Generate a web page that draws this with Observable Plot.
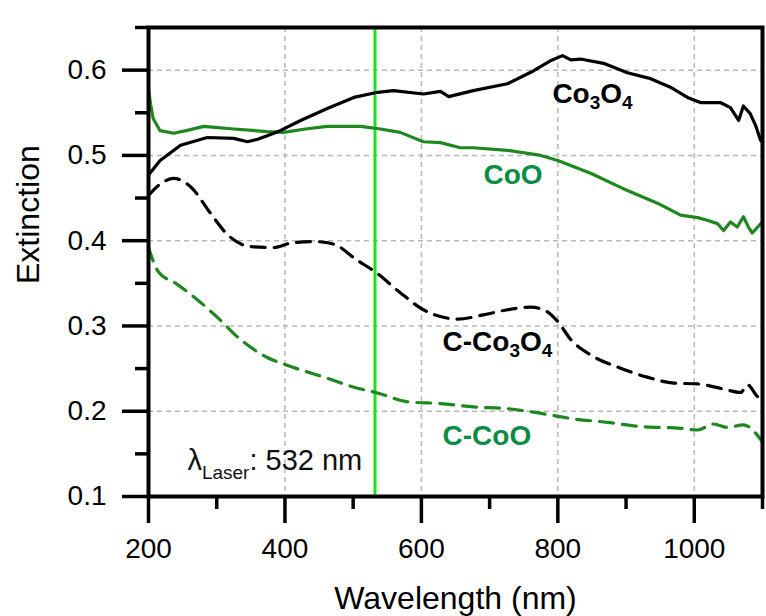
<!DOCTYPE html>
<html>
<head>
<meta charset="utf-8">
<script src="https://cdn.jsdelivr.net/npm/d3@7"></script>
<script src="https://cdn.jsdelivr.net/npm/@observablehq/plot@0.6"></script>
<style>
  html, body { margin: 0; padding: 0; background: #fff; }
  #chart { width: 766px; height: 616px; }
</style>
</head>
<body>
<div id="chart"></div>
<script>
// ---- Data ----
const wlCo3O4  = [200, 217, 247, 286, 325, 345, 360, 374, 393, 423, 462, 501, 536, 559, 603, 628, 640, 676, 726, 764, 789, 807, 819, 833, 867, 902, 936, 965, 990, 1009, 1038, 1053, 1065, 1072, 1082, 1090, 1097, 1100];
const extCo3O4 = [0.477, 0.494, 0.512, 0.521, 0.520, 0.516, 0.519, 0.523, 0.529, 0.541, 0.555, 0.568, 0.574, 0.576, 0.572, 0.575, 0.569, 0.576, 0.584, 0.599, 0.611, 0.617, 0.612, 0.613, 0.608, 0.597, 0.590, 0.580, 0.568, 0.562, 0.562, 0.556, 0.541, 0.558, 0.549, 0.535, 0.518, 0.515];

const wlCoO  = [200, 203, 207, 217, 237, 260, 281, 325, 374, 398, 430, 462, 511, 540, 569, 603, 628, 657, 676, 726, 775, 800, 848, 896, 946, 980, 1005, 1019, 1034, 1043, 1053, 1063, 1072, 1080, 1085, 1093, 1100];
const extCoO = [0.578, 0.560, 0.543, 0.529, 0.526, 0.530, 0.534, 0.531, 0.528, 0.527, 0.531, 0.534, 0.534, 0.531, 0.527, 0.516, 0.515, 0.509, 0.509, 0.506, 0.500, 0.494, 0.479, 0.461, 0.444, 0.430, 0.427, 0.424, 0.420, 0.412, 0.422, 0.416, 0.428, 0.415, 0.409, 0.416, 0.422];

const wlCCo3O4  = [200, 215, 237, 262, 291, 316, 350, 384, 408, 442, 471, 506, 533, 569, 603, 628, 653, 691, 726, 760, 779, 800, 819, 848, 887, 931, 970, 1005, 1043, 1068, 1078, 1093, 1100];
const extCCo3O4 = [0.453, 0.465, 0.473, 0.463, 0.432, 0.407, 0.393, 0.392, 0.397, 0.399, 0.396, 0.377, 0.363, 0.339, 0.319, 0.311, 0.308, 0.313, 0.319, 0.322, 0.319, 0.305, 0.284, 0.266, 0.252, 0.240, 0.233, 0.232, 0.226, 0.222, 0.231, 0.217, 0.214];

const wlCCoO  = [200, 206, 215, 240, 262, 290, 301, 335, 374, 403, 457, 511, 533, 580, 628, 676, 726, 764, 800, 823, 873, 921, 980, 1005, 1028, 1049, 1072, 1100];
const extCCoO = [0.392, 0.378, 0.363, 0.350, 0.337, 0.318, 0.310, 0.284, 0.263, 0.254, 0.240, 0.226, 0.222, 0.211, 0.209, 0.205, 0.203, 0.199, 0.194, 0.191, 0.187, 0.182, 0.180, 0.178, 0.185, 0.181, 0.184, 0.164];

const laserWavelength = [532];

const xMajorTicks = [200, 400, 600, 800, 1000];
const xMinorTicks = [300, 500, 700, 900, 1100];
const yMajorTicks = [0.1, 0.2, 0.3, 0.4, 0.5, 0.6];
const yMinorTicks = [0.15, 0.25, 0.35, 0.45, 0.55, 0.65];
const xGridTicks = [400, 600, 800, 1000];
const yGridTicks = [0.2, 0.3, 0.4, 0.5, 0.6];

// annotation anchors in data units
const blackLabels = ["Co_{3}O_{4}", "C-Co_{3}O_{4}"];
const blackLabelX = [792, 631];
const blackLabelY = [0.562, 0.271];
const greenLabels = ["CoO", "C-CoO"];
const greenLabelX = [691, 631];
const greenLabelY = [0.466, 0.160];
const laserNote = ["λ_{Laser}: 532 nm"];
const laserNoteX = [257];
const laserNoteY = [0.1305];

const xTitle = "Wavelength (nm)";
const yTitle = "Extinction";

// ---- Build ----
const toRows = (xs, ys) => xs.map((x, i) => ({x, y: ys[i]}));
const rowsLabels = (t, xs, ys) => t.map((s, i) => ({t: s, x: xs[i], y: ys[i]}));

const BLACK = "#000000";
const GREEN = "#1f871f";
const GREEN_TEXT = "#0b8c45";
const LASER = "#19e619";

const plot = Plot.plot({
  width: 766,
  height: 616,
  marginLeft: 148,
  marginRight: 4,
  marginTop: 27,
  marginBottom: 120,
  style: {fontFamily: "'Liberation Sans', Arial, sans-serif", fontSize: "28px", color: "#000", background: "#fff"},
  x: {domain: [200, 1100]},
  y: {domain: [0.1, 0.65]},
  marks: [
    Plot.gridX({ticks: xGridTicks, stroke: "#b8b8b8", strokeOpacity: 1, strokeWidth: 1.5, strokeDasharray: "5,4"}),
    Plot.gridY({ticks: yGridTicks, stroke: "#b8b8b8", strokeOpacity: 1, strokeWidth: 1.5, strokeDasharray: "5,4"}),
    Plot.ruleX(laserWavelength, {x: d => d, stroke: LASER, strokeWidth: 3}),
    Plot.line(toRows(wlCCoO, extCCoO), {x: "x", y: "y", stroke: GREEN, strokeWidth: 3.2, strokeDasharray: "14,9", curve: "monotone-x"}),
    Plot.line(toRows(wlCCo3O4, extCCo3O4), {x: "x", y: "y", stroke: BLACK, strokeWidth: 3.2, strokeDasharray: "14,9", curve: "monotone-x"}),
    Plot.line(toRows(wlCoO, extCoO), {x: "x", y: "y", stroke: GREEN, strokeWidth: 3.2}),
    Plot.line(toRows(wlCo3O4, extCo3O4), {x: "x", y: "y", stroke: BLACK, strokeWidth: 3.2}),
    Plot.text(rowsLabels(blackLabels, blackLabelX, blackLabelY), {x: "x", y: "y", text: "t", fill: BLACK, fontSize: 28, fontWeight: "bold", textAnchor: "start", lineAnchor: "bottom"}),
    Plot.text(rowsLabels(greenLabels, greenLabelX, greenLabelY), {x: "x", y: "y", text: "t", fill: GREEN_TEXT, fontSize: 28, fontWeight: "bold", textAnchor: "start", lineAnchor: "bottom"}),
    Plot.text(rowsLabels(laserNote, laserNoteX, laserNoteY), {x: "x", y: "y", text: "t", fill: "#111", fontSize: 29, textAnchor: "start", lineAnchor: "bottom"}),
    Plot.axisX({ticks: xMajorTicks, tickSize: 27, tickPadding: 15, strokeWidth: 3.5, fontSize: 28, label: null, tickFormat: d => String(d)}),
    Plot.axisX({ticks: xMinorTicks, tickSize: 13, strokeWidth: 3.5, text: null, label: null}),
    Plot.axisY({ticks: yMajorTicks, tickSize: 26, tickPadding: 16, strokeWidth: 3.5, fontSize: 28, label: null, tickFormat: d3.format(".1f")}),
    Plot.axisY({ticks: yMinorTicks, tickSize: 13, strokeWidth: 3.5, text: null, label: null}),
    Plot.frame({stroke: BLACK, strokeWidth: 4}),
    Plot.text([xTitle], {text: d => d, frameAnchor: "bottom", dy: 112, fontSize: 32, lineAnchor: "bottom", fill: "#000"}),
    Plot.text([yTitle], {text: d => d, frameAnchor: "left", dx: -110, dy: 22, rotate: -90, fontSize: 32, lineAnchor: "bottom", fill: "#000"})
  ]
});

// make sure axis ticks are drawn thick like the reference
plot.querySelectorAll('g[aria-label$="axis tick"]').forEach(g => {
  g.setAttribute("stroke-width", 3.5);
  g.setAttribute("stroke", "#000");
});

// subscripts: turn "_{...}" into lowered smaller tspans
plot.querySelectorAll("text").forEach(el => {
  const s = el.textContent;
  if (!s.includes("_{")) return;
  const isNote = s.startsWith("λ");
  const subSize = 19;
  const shift = isNote ? 9 : 6;
  const parts = s.split(/_\{([^}]*)\}/);
  while (el.firstChild) el.removeChild(el.firstChild);
  let lowered = false;
  parts.forEach((p, i) => {
    if (p === "") return;
    const t = document.createElementNS("http://www.w3.org/2000/svg", "tspan");
    if (i % 2 === 1) {
      t.setAttribute("font-size", subSize);
      if (!lowered) { t.setAttribute("dy", shift); lowered = true; }
    } else if (lowered) {
      t.setAttribute("dy", -shift);
      lowered = false;
    }
    t.textContent = p;
    el.appendChild(t);
  });
});

document.getElementById("chart").appendChild(plot);
</script>
</body>
</html>
